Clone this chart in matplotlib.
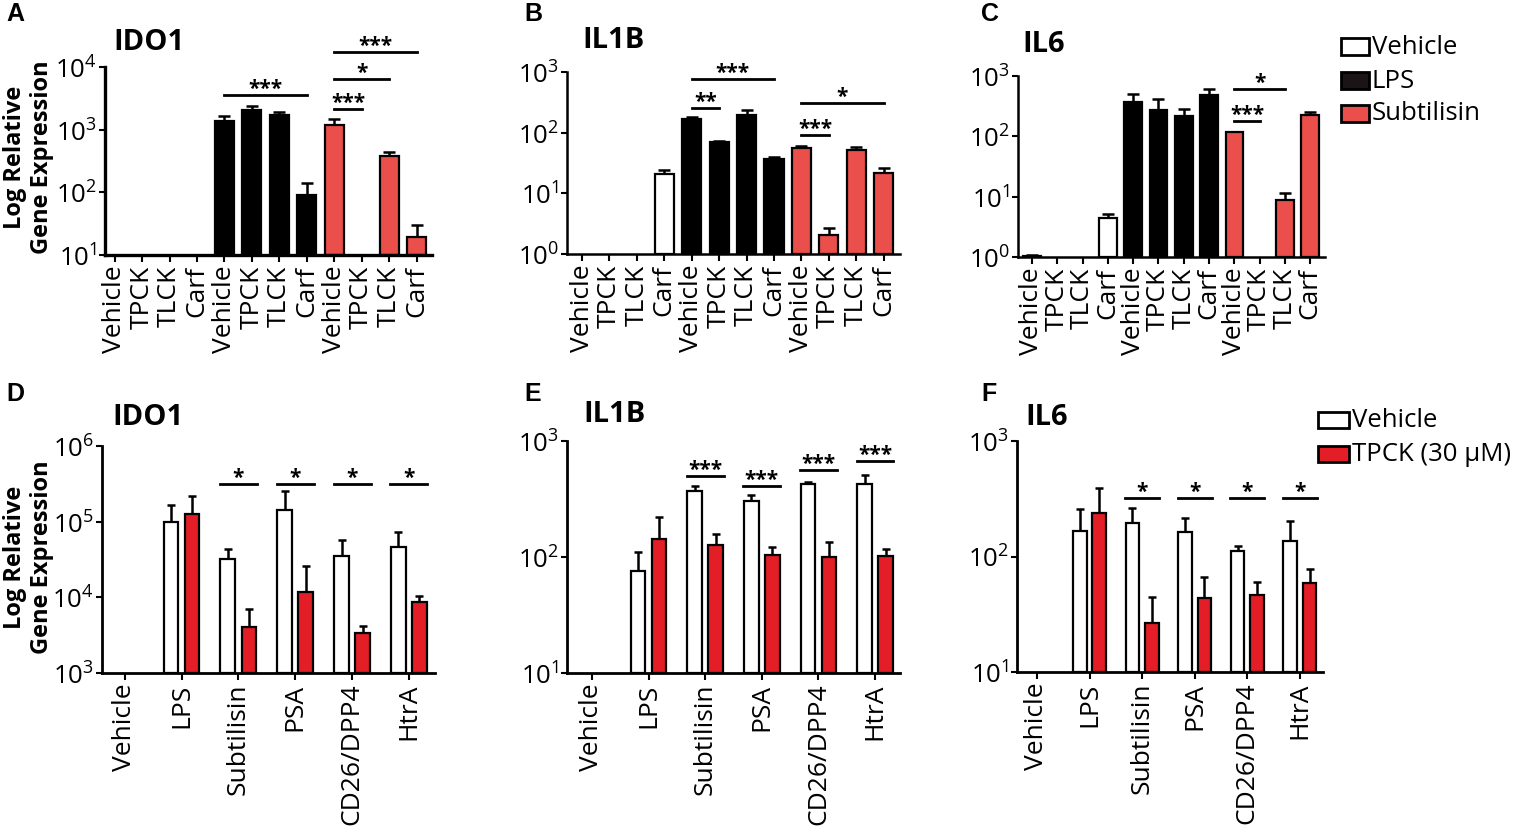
import numpy as np
import matplotlib
matplotlib.use("Agg")
import matplotlib.pyplot as plt
from matplotlib.patches import Rectangle
from matplotlib.ticker import FixedLocator, FuncFormatter, NullLocator
import matplotlib.transforms as mtransforms

nan = np.nan

# ---------------- data (top row: A, B, C) ----------------
top_categories = ["Vehicle", "TPCK", "TLCK", "Carf"] * 3
top_groups = ["Vehicle", "LPS", "Subtilisin"]

ido1_top = [nan, nan, nan, nan, 1400, 2080, 1690, 91, 1196, nan, 382, 19.6]
ido1_top_sem = [nan, nan, nan, nan, 240, 300, 240, 50, 260, nan, 61, 10.2]

il1b_top = [nan, nan, nan, 21.2, 169, 69.8, 192, 37, 55.6, 2.08, 51.5, 22]
il1b_top_sem = [nan, nan, nan, 3.2, 11, 1.8, 41, 2, 5.1, 0.57, 6.2, 4]

il6_top = [1.04, nan, nan, 4.4, 370, 276, 216, 490, 117, nan, 8.65, 225]
il6_top_sem = [0.03, nan, nan, 0.7, 126, 139, 63, 118, 3, nan, 2.65, 26]

# ---------------- data (bottom row: D, E, F) ----------------
bottom_categories = ["Vehicle", "LPS", "Subtilisin", "PSA", "CD26/DPP4", "HtrA"]
bottom_series = ["Vehicle", "TPCK (30 \u03bcM)"]

ido1_veh = [nan, 99000, 32400, 144000, 34800, 45800]
ido1_veh_sem = [nan, 69000, 10600, 107000, 23000, 26500]
ido1_tpck = [nan, 127600, 4100, 11900, 3380, 8590]
ido1_tpck_sem = [nan, 90400, 2980, 14000, 800, 1810]

il1b_veh = [nan, 75, 370, 303, 425, 425]
il1b_veh_sem = [nan, 35, 39, 37, 18, 87]
il1b_tpck = [nan, 143.5, 125.7, 105, 99.7, 102]
il1b_tpck_sem = [nan, 77.5, 31.3, 18, 36.3, 15.5]

il6_veh = [nan, 165, 193.8, 161.8, 112.4, 135.3]
il6_veh_sem = [nan, 94, 69, 55, 11.6, 67.6]
il6_tpck = [nan, 236.5, 26.6, 43.7, 46.1, 59.4]
il6_tpck_sem = [nan, 157.5, 18, 22.3, 14, 18]

# significance annotations: (start index, end index, label, level in axes fraction)
sig_A = [(4, 7, "***", 0.851), (8, 9, "***", 0.777), (8, 10, "*", 0.936), (8, 11, "***", 1.08)]
sig_B = [(4, 7, "***", 0.962), (4, 5, "**", 0.802), (8, 11, "*", 0.83), (8, 9, "***", 0.654)]
sig_C = [(8, 10, "*", 0.928), (8, 9, "***", 0.751)]
# bottom: (category index, label, level)
sig_D = [(2, "*", 0.833), (3, "*", 0.833), (4, "*", 0.833), (5, "*", 0.833)]
sig_E = [(2, "***", 0.849), (3, "***", 0.806), (4, "***", 0.875), (5, "***", 0.914)]
sig_F = [(2, "*", 0.753), (3, "*", 0.753), (4, "*", 0.753), (5, "*", 0.753)]

# ---------------- style ----------------
W, H = 1519, 829
plt.rcParams["font.family"] = ["Open Sans", "DejaVu Sans"]
plt.rcParams["mathtext.fontset"] = "custom"
plt.rcParams["mathtext.rm"] = "Open Sans"
plt.rcParams["mathtext.it"] = "Open Sans:italic"
plt.rcParams["mathtext.bf"] = "Open Sans:bold"

RED_TOP = "#EA4F4C"
RED_BOT = "#E41E26"
group_colors = {"Vehicle": "white", "LPS": "black", "Subtilisin": RED_TOP}

fig = plt.figure(figsize=(W / 100, H / 100), dpi=100)


def rect_px(l, t, r, b):
    return [l / W, 1 - b / H, (r - l) / W, (b - t) / H]


def fx(x):
    return x / W


def fy(y):
    return 1 - y / H


def style_axes(ax, ymin, ymax, spine_w=2.0):
    ax.set_yscale("log")
    ax.set_ylim(ymin, ymax)
    for s in ["top", "right"]:
        ax.spines[s].set_visible(False)
    for s in ["left", "bottom"]:
        ax.spines[s].set_linewidth(spine_w)
    decades = [10 ** k for k in range(int(round(np.log10(ymin))), int(round(np.log10(ymax))) + 1)]
    ax.yaxis.set_major_locator(FixedLocator(decades))
    ax.yaxis.set_minor_locator(NullLocator())
    ax.yaxis.set_major_formatter(FuncFormatter(lambda v, p: r"$\mathregular{10^{%d}}$" % int(round(np.log10(v)))))
    ax.tick_params(axis="y", labelsize=18.5, length=4, width=1.5, pad=2)
    ax.tick_params(axis="x", labelsize=19, length=5, width=1.5, pad=2, labelrotation=90)


def add_bars(ax, x, vals, sems, colors, width, ymin, cap):
    for xi, v, s, c in zip(x, vals, sems, colors):
        if np.isnan(v):
            continue
        ax.bar(xi, v - ymin, bottom=ymin, width=width, color=c, edgecolor="black",
               linewidth=1.6, zorder=2)
        if not np.isnan(s):
            ax.errorbar(xi, v, yerr=[[0], [s]], fmt="none", ecolor="black",
                        elinewidth=1.8, capsize=cap, capthick=1.8, zorder=1)


def add_top_sig(ax, sigs):
    tr = mtransforms.blended_transform_factory(ax.transData, ax.transAxes)
    for a, b, lab, lvl in sigs:
        ax.plot([a, b], [lvl, lvl], color="black", lw=2.0, transform=tr, clip_on=False)
        ax.annotate(lab, xy=((a + b) / 2, lvl), xycoords=tr, xytext=(0, 0.5),
                    textcoords="offset points", ha="center", va="baseline",
                    fontsize=15, fontweight="bold", annotation_clip=False)


def add_bot_sig(ax, sigs, half):
    tr = mtransforms.blended_transform_factory(ax.transData, ax.transAxes)
    for i, lab, lvl in sigs:
        ax.plot([i - half, i + half], [lvl, lvl], color="black", lw=2.0, transform=tr, clip_on=False)
        ax.annotate(lab, xy=(i, lvl), xycoords=tr, xytext=(0, 0.5),
                    textcoords="offset points", ha="center", va="baseline",
                    fontsize=15, fontweight="bold", annotation_clip=False)


# ---------------- top row ----------------
top_specs = [
    (rect_px(105, 68, 432, 256), ido1_top, ido1_top_sem, 10, 1e4, (-0.35, 11.56), sig_A, "IDO1", 113, 42, "A", 6, 2.4),
    (rect_px(567, 73, 900, 255), il1b_top, il1b_top_sem, 1, 1e3, (-0.55, 11.6), sig_B, "IL1B", 582, 40, "B", 524, 1.8),
    (rect_px(1018, 77, 1325, 258), il6_top, il6_top_sem, 1, 1e3, (-0.55, 11.58), sig_C, "IL6", 1022, 44, "C", 981, 1.8),
]
top_colors = [group_colors[g] for g in top_groups for _ in range(4)]
xt = np.arange(len(top_categories))
for rect, vals, sems, ymin, ymax, xlim, sigs, title, tx, ty, letter, lx, sw in top_specs:
    ax = fig.add_axes(rect)
    style_axes(ax, ymin, ymax, sw)
    add_bars(ax, xt, vals, sems, top_colors, 0.7, ymin, 4.3)
    ax.set_xlim(*xlim)
    ax.set_xticks(xt)
    ax.set_xticklabels(top_categories)
    add_top_sig(ax, sigs)
    fig.text(fx(tx), fy(ty), title, fontsize=21, fontweight="bold", ha="left", va="center")
    fig.text(fx(lx), fy(14), letter, fontsize=18, fontweight="bold", ha="left", va="center",
             family=["Liberation Sans", "DejaVu Sans"])

# ---------------- bottom row ----------------
bw = 0.26
off = 0.185
bottom_specs = [
    (rect_px(102, 447, 435, 674), ido1_veh, ido1_veh_sem, ido1_tpck, ido1_tpck_sem, 1e3, 1e6, (-0.40, 5.46), sig_D, "IDO1", 112, 418, "D", 6),
    (rect_px(567, 442, 900, 674), il1b_veh, il1b_veh_sem, il1b_tpck, il1b_tpck_sem, 10, 1e3, (-0.44, 5.44), sig_E, "IL1B", 583, 415, "E", 524),
    (rect_px(1017, 442, 1323, 673), il6_veh, il6_veh_sem, il6_tpck, il6_tpck_sem, 10, 1e3, (-0.38, 5.44), sig_F, "IL6", 1025, 418, "F", 981),
]
xb = np.arange(len(bottom_categories))
for rect, v1, s1, v2, s2, ymin, ymax, xlim, sigs, title, tx, ty, letter, lx in bottom_specs:
    ax = fig.add_axes(rect)
    style_axes(ax, ymin, ymax, 2.0)
    add_bars(ax, xb - off, v1, s1, ["white"] * len(xb), bw, ymin, 2.8)
    add_bars(ax, xb + off, v2, s2, [RED_BOT] * len(xb), bw, ymin, 2.8)
    ax.set_xlim(*xlim)
    ax.set_xticks(xb)
    ax.set_xticklabels(bottom_categories)
    add_bot_sig(ax, sigs, off + bw / 2 + 0.01)
    fig.text(fx(tx), fy(ty), title, fontsize=21, fontweight="bold", ha="left", va="center")
    fig.text(fx(lx), fy(394), letter, fontsize=18, fontweight="bold", ha="left", va="center",
             family=["Liberation Sans", "DejaVu Sans"])

# ---------------- y labels ----------------
for cy in (157, 557):
    fig.text(fx(15), fy(cy), "Log Relative", rotation=90, fontsize=17, fontweight="bold",
             ha="center", va="center")
    fig.text(fx(42), fy(cy), "Gene Expression", rotation=90, fontsize=17, fontweight="bold",
             ha="center", va="center")

# ---------------- legends ----------------
def legend_px(x0, rows, labels, colors, bw_px, bh_px):
    for cy, lab, col in zip(rows, labels, colors):
        fig.add_artist(Rectangle((fx(x0), fy(cy + bh_px / 2)), bw_px / W, bh_px / H,
                                 facecolor=col, edgecolor="black", linewidth=2.0,
                                 transform=fig.transFigure))
        fig.text(fx(x0 + bw_px + 3), fy(cy), lab, fontsize=18.5, ha="left", va="center")


legend_px(1341, [47, 81, 114], top_groups, ["white", "#1a1416", RED_TOP], 28, 17)
legend_px(1318, [421, 455], bottom_series, ["white", RED_BOT], 31, 16)

fig.savefig("out.png", dpi=100)
